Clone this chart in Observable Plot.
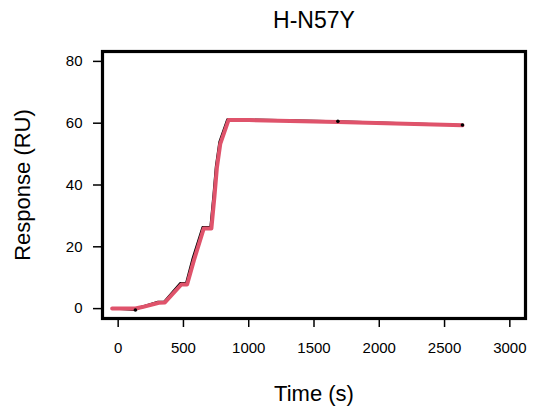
<!DOCTYPE html>
<html>
<head>
<meta charset="utf-8">
<script src="https://cdn.jsdelivr.net/npm/d3@7"></script>
<script src="https://cdn.jsdelivr.net/npm/@observablehq/plot@0.6"></script>
<style>
  body { margin: 0; background: #fff; }
</style>
</head>
<body>
<div id="chart"></div>
<script>
const title = "H-N57Y";
const xLabel = "Time (s)";
const yLabel = "Response (RU)";
const xTicks = [0, 500, 1000, 1500, 2000, 2500, 3000];
const yTicks = [0, 20, 40, 60, 80];

// observed response (black)
const rawTime = [-46, 132, 180, 304, 350, 476, 520, 570, 646, 706, 730, 748, 775, 836, 1000, 1683, 2637];
const rawResp = [0, -0.45, 0.6, 2.2, 2.2, 8.3, 8.3, 16.3, 26.4, 26.4, 37.0, 46.0, 54.0, 61.3, 61.2, 60.6, 59.4];

// fitted response (red)
const fitTime = [-46, 132, 185, 312, 358, 484, 528, 580, 655, 714, 738, 756, 782, 845, 1000, 1683, 2637];
const fitResp = [0, 0.05, 0.5, 1.9, 2.0, 7.8, 7.8, 15.6, 25.9, 25.9, 36.5, 45.5, 53.3, 61.0, 61.0, 60.4, 59.3];

// marked observation points
const dotTime = [132, 1683, 2637];
const dotResp = [-0.45, 60.6, 59.4];

const raw = rawTime.map((t, i) => ({t, v: rawResp[i]}));
const fit = fitTime.map((t, i) => ({t, v: fitResp[i]}));
const dots = dotTime.map((t, i) => ({t, v: dotResp[i]}));

const font = "'Liberation Sans', Arial, Helvetica, sans-serif";

const chart = Plot.plot({
  width: 536,
  height: 414,
  marginTop: 51,
  marginBottom: 96,
  marginLeft: 102,
  marginRight: 11,
  style: {fontFamily: font, background: "#fff", color: "#000"},
  x: {domain: [-120, 3120]},
  y: {domain: [-3.2, 83.2]},
  marks: [
    Plot.axisX({ticks: xTicks, tickSize: 9, tickPadding: 15, fontSize: 15, label: null, strokeWidth: 1.5, tickFormat: d => String(d)}),
    Plot.axisY({ticks: yTicks, tickSize: 9, tickPadding: 11, fontSize: 15, label: null, strokeWidth: 1.5, tickFormat: d => String(d)}),
    Plot.line(raw, {x: "t", y: "v", stroke: "#000", strokeWidth: 2, curve: "linear"}),
    Plot.line(fit, {x: "t", y: "v", stroke: "#DF536B", strokeWidth: 4, strokeLinecap: "round"}),
    Plot.dot(dots, {x: "t", y: "v", r: 1.8, fill: "#000"}),
    Plot.frame({stroke: "#000", strokeWidth: 3.2}),
    Plot.text([title], {frameAnchor: "top", dy: -23.5, fontSize: 23, lineAnchor: "bottom", textAnchor: "middle", fill: "#000"}),
    Plot.text([xLabel], {frameAnchor: "bottom", dy: 82, fontSize: 22, lineAnchor: "bottom", textAnchor: "middle", fill: "#000"}),
    Plot.text([yLabel], {frameAnchor: "left", dx: -72.5, rotate: -90, fontSize: 22, lineAnchor: "bottom", textAnchor: "middle", fill: "#000"})
  ]
});
document.getElementById("chart").appendChild(chart);
</script>
</body>
</html>
